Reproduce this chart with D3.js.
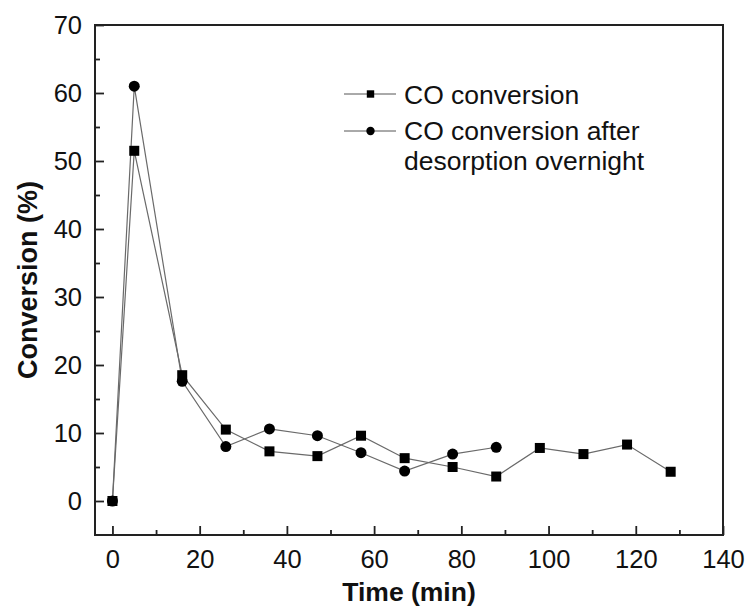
<!DOCTYPE html>
<html>
<head>
<meta charset="utf-8">
<script src="https://d3js.org/d3.v7.min.js"></script>
<style>
  body { margin: 0; background: #fff; }
  text { font-family: Arial, "Liberation Sans", sans-serif; fill: #111; }
</style>
</head>
<body>
<div id="chart"></div>
<script>
// CO conversion (squares)
const timeA = [0, 5, 16, 26, 36, 47, 57, 67, 78, 88, 98, 108, 118, 128];
const convA = [0, 51.5, 18.5, 10.5, 7.3, 6.6, 9.6, 6.3, 5.0, 3.6, 7.8, 6.9, 8.3, 4.3];
// CO conversion after desorption overnight (circles)
const timeB = [0, 5, 16, 26, 36, 47, 57, 67, 78, 88];
const convB = [0, 61.0, 17.6, 8.0, 10.6, 9.6, 7.1, 4.4, 6.9, 7.9];

const xTicks = [0, 20, 40, 60, 80, 100, 120, 140];
const xMinor = [10, 30, 50, 70, 90, 110, 130];
const yTicks = [0, 10, 20, 30, 40, 50, 60, 70];
const yMinor = [5, 15, 25, 35, 45, 55, 65];
const seriesNames = ["CO conversion", "CO conversion after", "desorption overnight"];

const W = 750, H = 607;
const margin = {top: 25, right: 27, bottom: 72, left: 95};
const width = W - margin.left - margin.right,
      height = H - margin.top - margin.bottom;

const svg = d3.select("#chart").append("svg")
  .attr("width", W).attr("height", H)
  .append("g")
  .attr("transform", `translate(${margin.left},${margin.top})`);

const x = d3.scaleLinear().domain([-4, 140]).range([0, width]);
const y = d3.scaleLinear().domain([-5, 70]).range([height, 0]);

// axes, ticks pointing inward
svg.append("g")
  .attr("transform", `translate(0,${height})`)
  .call(d3.axisBottom(x).tickValues(xTicks).tickSize(-9).tickPadding(15));
svg.append("g")
  .attr("transform", `translate(0,${height})`)
  .call(d3.axisBottom(x).tickValues(xMinor).tickSize(-5).tickFormat(""));
svg.append("g")
  .call(d3.axisLeft(y).tickValues(yTicks).tickSize(-9).tickPadding(13));
svg.append("g")
  .call(d3.axisLeft(y).tickValues(yMinor).tickSize(-5).tickFormat(""));

svg.selectAll(".domain").remove();
svg.selectAll(".tick line").attr("stroke", "#222").attr("stroke-width", 1.8);
svg.selectAll(".tick text")
  .style("font-size", "25.5px")
  .style("font-family", "Arial, 'Liberation Sans', sans-serif")
  .attr("fill", "#111");

// frame
svg.append("rect")
  .attr("width", width).attr("height", height)
  .attr("fill", "none").attr("stroke", "#222").attr("stroke-width", 2);

// lines
const line = d3.line().x(d => x(d[0])).y(d => y(d[1]));
const dataA = timeA.map((t, i) => [t, convA[i]]);
const dataB = timeB.map((t, i) => [t, convB[i]]);

svg.append("path").datum(dataA).attr("d", line)
  .attr("fill", "none").attr("stroke", "#6a6a6a").attr("stroke-width", 1.2);
svg.append("path").datum(dataB).attr("d", line)
  .attr("fill", "none").attr("stroke", "#6a6a6a").attr("stroke-width", 1.2);

// markers
const sq = 10;
svg.selectAll(".sq").data(dataA).join("rect")
  .attr("x", d => x(d[0]) - sq / 2)
  .attr("y", d => y(d[1]) - sq / 2)
  .attr("width", sq).attr("height", sq)
  .attr("fill", "#000");
svg.selectAll(".ci").data(dataB).join("circle")
  .attr("cx", d => x(d[0]))
  .attr("cy", d => y(d[1]))
  .attr("r", 5.5)
  .attr("fill", "#000");

// legend
const lg = svg.append("g").attr("transform", `translate(${344 - margin.left},${94 - margin.top})`);
[0, 37].forEach(dy => {
  lg.append("line").attr("x1", 0).attr("x2", 52).attr("y1", dy).attr("y2", dy)
    .attr("stroke", "#555").attr("stroke-width", 1);
});
lg.append("rect").attr("x", 26.5 - 3.7).attr("y", -3.7).attr("width", 7.4).attr("height", 7.4).attr("fill", "#000");
lg.append("circle").attr("cx", 26.5).attr("cy", 37).attr("r", 4.2).attr("fill", "#000");
[9.5, 46, 76].forEach((by, i) => {
  lg.append("text").attr("x", 60).attr("y", by)
    .style("font-size", "26.5px")
    .text(seriesNames[i]);
});

// axis titles
svg.append("text")
  .attr("x", 409 - margin.left)
  .attr("y", 601 - margin.top)
  .attr("text-anchor", "middle")
  .style("font-size", "26.5px").style("font-weight", "bold")
  .text("Time (min)");
svg.append("text")
  .attr("transform", `translate(${37 - margin.left},${height / 2}) rotate(-90)`)
  .attr("text-anchor", "middle")
  .style("font-size", "27px").style("font-weight", "bold")
  .text("Conversion (%)");
</script>
</body>
</html>
